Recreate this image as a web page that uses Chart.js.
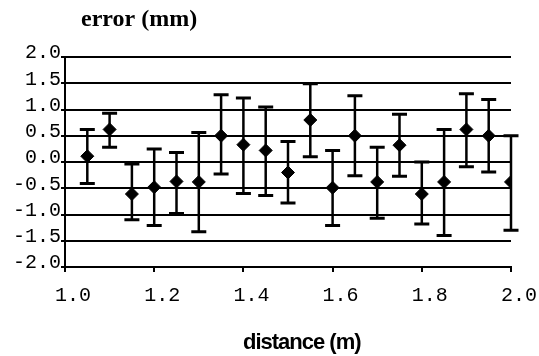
<!DOCTYPE html>
<html>
<head>
<meta charset="utf-8">
<script src="https://cdn.jsdelivr.net/npm/chart.js@4/dist/chart.umd.min.js"></script>
<style>
  html, body { margin: 0; padding: 0; background: #fff; }
  #wrap { width: 539px; height: 356px; }
</style>
</head>
<body>
<div id="wrap"><canvas id="c" width="539" height="356"></canvas></div>
<script>
'use strict';

// ── Data ──────────────────────────────────────────────────────────────────────
const distance = [1.05, 1.10, 1.15, 1.20, 1.25, 1.30, 1.35, 1.40, 1.45, 1.50,
                  1.55, 1.60, 1.65, 1.70, 1.75, 1.80, 1.85, 1.90, 1.95, 2.00];
const errorMm  = [0.11, 0.62, -0.61, -0.48, -0.37, -0.38, 0.50, 0.33, 0.22, -0.20,
                  0.80, -0.49, 0.50, -0.38, 0.32, -0.61, -0.38, 0.62, 0.50, -0.38];
const barHigh  = [0.62, 0.93, -0.04, 0.25, 0.18, 0.56, 1.28, 1.22, 1.05, 0.39,
                  1.49, 0.22, 1.26, 0.28, 0.91, 0.00, 0.62, 1.30, 1.19, 0.50];
const barLow   = [-0.41, 0.28, -1.10, -1.21, -0.98, -1.33, -0.23, -0.60, -0.64, -0.78,
                  0.10, -1.21, -0.26, -1.07, -0.27, -1.18, -1.40, -0.09, -0.19, -1.30];

const yTitle = 'error (mm)';
const xTitle = 'distance (m)';

const MONO = "'Courier New', 'Liberation Mono', monospace";

// ── Error bars: vertical whisker with flat caps, drawn under the markers ─────
const errorBars = {
  id: 'errorBars',
  beforeDatasetsDraw(chart) {
    const { ctx, scales: { x, y } } = chart;
    ctx.save();
    ctx.strokeStyle = '#000';
    distance.forEach((d, i) => {
      const px = x.getPixelForValue(d);
      const top = y.getPixelForValue(barHigh[i]);
      const bot = y.getPixelForValue(barLow[i]);
      ctx.lineWidth = 2.5;
      ctx.beginPath();
      ctx.moveTo(px, top);
      ctx.lineTo(px, bot);
      ctx.stroke();
      ctx.lineWidth = 3;
      ctx.beginPath();
      ctx.moveTo(px - 7.5, top); ctx.lineTo(px + 7.5, top);
      ctx.moveTo(px - 7.5, bot); ctx.lineTo(px + 7.5, bot);
      ctx.stroke();
    });
    ctx.restore();
  }
};

// ── Axis titles ──────────────────────────────────────────────────────────────
const axisTitles = {
  id: 'axisTitles',
  afterDraw(chart) {
    const ctx = chart.ctx;
    ctx.save();
    ctx.fillStyle = '#000';
    ctx.textBaseline = 'alphabetic';
    ctx.textAlign = 'left';
    ctx.font = "bold 24px 'Liberation Serif', 'Times New Roman', serif";
    ctx.fillText(yTitle, 81, 26);
    ctx.font = "bold 22px 'Liberation Sans', Arial, sans-serif";
    ctx.letterSpacing = '-1px';
    ctx.fillText(xTitle, 243, 349);
    ctx.restore();
  }
};

// ── Chart ─────────────────────────────────────────────────────────────────────
new Chart(document.getElementById('c'), {
  type: 'scatter',
  data: {
    datasets: [{
      data: distance.map((d, i) => ({ x: d, y: errorMm[i] })),
      pointStyle: 'rectRot',
      pointRadius: 6.5,
      pointBorderWidth: 1,
      backgroundColor: '#000',
      borderColor: '#000',
      showLine: false,
    }]
  },
  options: {
    responsive: false,
    animation: false,
    layout: { padding: { top: 57, right: 28, left: 0, bottom: 0 } },
    plugins: {
      legend:  { display: false },
      tooltip: { enabled: false },
    },
    scales: {
      x: {
        type: 'linear',
        min: 1.0, max: 2.0,
        grid:   { drawOnChartArea: false, drawTicks: true, tickLength: 5, color: '#000', lineWidth: 2 },
        border: { display: true, color: '#000', width: 2 },
        ticks: {
          stepSize: 0.2,
          autoSkip: false,
          color: '#000',
          padding: 12,
          labelOffset: 8,
          maxRotation: 0,
          font: { family: MONO, size: 20 },
          callback: v => v.toFixed(1),
        },
        afterFit: s => { s.height = 89; s.paddingLeft = 0; s.paddingRight = 0; },
      },
      y: {
        min: -2.0, max: 2.0,
        grid:   { color: '#000', lineWidth: 2, tickLength: 4 },
        border: { display: true, color: '#000', width: 2 },
        ticks: {
          stepSize: 0.5,
          autoSkip: false,
          color: '#000',
          padding: 0,
          labelOffset: -4,
          font: { family: MONO, size: 20 },
          callback: v => v.toFixed(1),
        },
        afterFit: s => { s.width = 65; s.paddingTop = 0; s.paddingBottom = 0; },
      }
    }
  },
  plugins: [errorBars, axisTitles]
});
</script>
</body>
</html>
